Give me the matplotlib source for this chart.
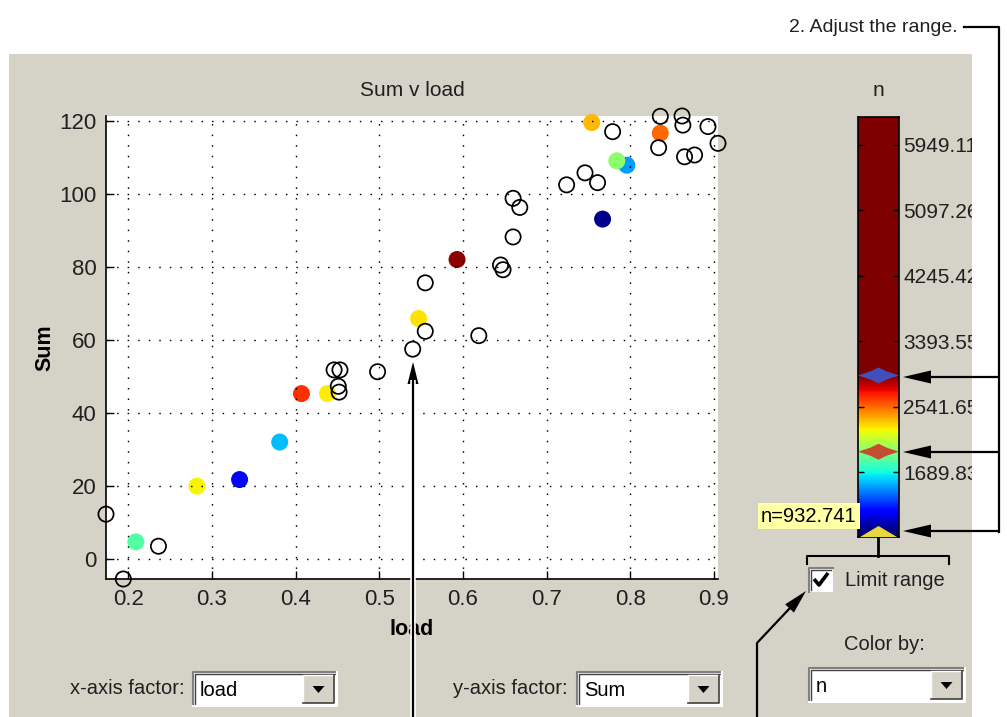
import numpy as np
import matplotlib
matplotlib.use('Agg')
import matplotlib.pyplot as plt
from matplotlib.patches import Rectangle, Polygon
from matplotlib.colors import Normalize

plt.rcParams['font.family'] = ['Liberation Sans', 'DejaVu Sans']

# points whose n lies inside the limited range (filled, coloured by n)
load_in = [0.209, 0.282, 0.333, 0.381, 0.407, 0.438, 0.547, 0.593,
           0.754, 0.796, 0.784, 0.836, 0.767]
sum_in = [4.6, 19.9, 21.7, 32.0, 45.3, 45.3, 65.9, 82.1,
          119.7, 108.0, 109.2, 116.8, 93.2]
n_in = [1840, 2244, 1195, 1558, 2659, 2264, 2284, 2920,
        2371, 1497, 1982, 2546, 959]

# points outside the range (hollow)
load_out = [0.1733, 0.194, 0.236, 0.446, 0.453, 0.451, 0.452, 0.498, 0.540,
            0.555, 0.555, 0.619, 0.645, 0.648, 0.660, 0.660, 0.668, 0.724,
            0.746, 0.761, 0.779, 0.834, 0.836, 0.862, 0.863, 0.865, 0.877,
            0.893, 0.905]
sum_out = [12.2, -5.6, 3.4, 51.8, 51.8, 47.3, 45.7, 51.3, 57.5,
           75.7, 62.4, 61.2, 80.6, 79.3, 88.3, 98.9, 96.4, 102.6,
           105.9, 103.2, 117.2, 112.8, 121.4, 121.5, 119.0, 110.3, 110.8,
           118.6, 114.0]

# colour bar
n_min, n_max = 848.0, 6313.0
n_lo, n_mid, n_hi = 932.741, 1958.0, 2950.0
cbar_ticks = [1689.83, 2541.65, 3393.55, 4245.42, 5097.26, 5949.11]
cbar_labels = ['1689.83', '2541.65', '3393.55', '4245.42', '5097.26', '5949.11']

x_ticks = [0.2, 0.3, 0.4, 0.5, 0.6, 0.7, 0.8, 0.9]
y_ticks = [0, 20, 40, 60, 80, 100, 120]

W, H = 1007, 717
PANEL = '#d5d3c7'
TXT = '#202020'
FS = 15


def box(l, t, r, b):
    return [l / W, 1 - b / H, (r - l) / W, (b - t) / H]


fig = plt.figure(figsize=(W / 100, H / 100), dpi=100)
fig.patch.set_facecolor('white')

# background layer in pixel coordinates
bg = fig.add_axes([0, 0, 1, 1], zorder=-10)
bg.set_xlim(0, W)
bg.set_ylim(H, 0)
bg.axis('off')
bg.add_patch(Rectangle((9, 54), 963, 663, fc=PANEL, ec='none'))


def dropdown(l, t, r, b, label):
    bg.add_patch(Rectangle((l, t), r - l, b - t, fc='white', ec='none'))
    bg.plot([l, l, r], [b, t, t], color='#808080', lw=1.5)
    bg.plot([l + 2, l + 2, r - 2], [b - 2, t + 2, t + 2], color='#404040', lw=1)
    bg.plot([l, r, r], [b, b, t], color='white', lw=1.5)
    bw = 31
    bx = r - bw - 3
    bg.add_patch(Rectangle((bx, t + 3), bw, b - t - 6, fc=PANEL, ec='none'))
    bg.plot([bx, bx, r - 3], [b - 3, t + 3, t + 3], color='white', lw=1)
    bg.plot([bx, r - 3, r - 3], [b - 3, b - 3, t + 3], color='#404040', lw=1.2)
    cx, cy = bx + bw / 2, (t + b) / 2
    bg.add_patch(Polygon([(cx - 6, cy - 3), (cx + 6, cy - 3), (cx, cy + 4)],
                         fc='black', ec='none'))
    bg.text(l + 7, cy + 1, label, va='center', ha='left', fontsize=14.5, color='black')


bg.text(185, 689, 'x-axis factor:', ha='right', va='center', fontsize=14.5, color=TXT)
dropdown(193, 672, 337, 706, 'load')
bg.text(568, 689, 'y-axis factor:', ha='right', va='center', fontsize=14.5, color=TXT)
dropdown(577, 672, 722, 706, 'Sum')
bg.text(884, 645, 'Color by:', ha='center', va='center', fontsize=14.5, color=TXT)
dropdown(809, 668, 965, 702, 'n')

# limit range checkbox
bg.add_patch(Rectangle((809, 568), 24, 24, fc='white', ec='none'))
bg.plot([809, 809, 833], [592, 568, 568], color='#808080', lw=1.5)
bg.plot([811, 811, 831], [590, 570, 570], color='#404040', lw=1)
bg.plot([814, 819, 828], [579, 585, 573], color='black', lw=2.6, solid_capstyle='butt')
bg.text(845, 581, 'Limit range', ha='left', va='center', fontsize=14.5, color=TXT)

# bracket under colour bar
bg.plot([878, 878], [537, 556], color='black', lw=2)
bg.plot([807, 807, 949, 949], [564, 556, 556, 564], color='black', lw=1.5)

# main scatter axes
ax = fig.add_axes(box(106, 116, 718, 579), zorder=1)
ax.set_facecolor('white')
norm = Normalize(n_lo, n_hi)
ax.scatter(load_in, sum_in, c=n_in, cmap='jet', norm=norm, s=150,
           linewidths=0, zorder=2, clip_on=False)
ax.scatter(load_out, sum_out, s=120, facecolors='none', edgecolors='black',
           linewidths=1.25, zorder=2, clip_on=False)
all_x = load_in + load_out
all_y = sum_in + sum_out
ax.set_xlim(min(all_x), max(all_x))
ax.set_ylim(min(all_y), max(all_y))
ax.set_xticks(x_ticks)
ax.set_yticks(y_ticks)
ax.grid(True, color='black', linestyle=(0, (1.1, 6.5)), linewidth=1.0)
ax.set_axisbelow(False)
for s in ['top', 'right']:
    ax.spines[s].set_visible(False)
for s in ['left', 'bottom']:
    ax.spines[s].set_linewidth(1.2)
ax.tick_params(direction='in', length=6, width=1, labelsize=16,
               labelcolor=TXT)
ax.tick_params(axis='x', pad=7)
ax.tick_params(axis='y', pad=7)
ax.set_title('Sum v load', fontsize=FS, color=TXT, y=1.056, va='center', pad=0)
ax.set_xlabel('load', fontsize=15.5, fontweight='bold', va='center')
ax.xaxis.set_label_coords(0.5, -0.110)
ax.set_ylabel('Sum', fontsize=15.5, fontweight='bold', va='center')
ax.yaxis.set_label_coords(-0.099, 0.50)

# colour bar
cax = fig.add_axes(box(858, 117, 899, 537), zorder=1)
vals = np.linspace(n_min, n_max, 600)[:, None]
cax.imshow(vals, cmap='jet', norm=norm, origin='lower', aspect='auto',
           extent=(0, 1, n_min, n_max))
cax.set_xlim(0, 1)
cax.set_ylim(n_min, n_max)
cax.set_xticks([])
cax.set_yticks(cbar_ticks)
cax.set_yticklabels(cbar_labels)
cax.yaxis.tick_right()
cax.tick_params(axis='y', direction='in', length=4, width=1, labelsize=FS,
                labelcolor=TXT, pad=3, left=True, right=True)
for s in cax.spines.values():
    s.set_linewidth(1.2)
cax.set_title('n', fontsize=FS, color=TXT, y=1.064, va='center', pad=0)

# slider handles on the colour bar
dv = (n_max - n_min) / 420.0
for v, fc in [(n_hi, '#3a5ad0'), (n_mid, '#cc3a2a')]:
    cax.add_patch(Polygon([(0.0, v), (0.3, v + 4 * dv), (0.5, v + 8 * dv),
                           (0.7, v + 4 * dv), (1.0, v), (0.7, v - 4 * dv),
                           (0.5, v - 8 * dv), (0.3, v - 4 * dv)],
                          fc=fc, ec='none', alpha=0.9, zorder=3))
cax.add_patch(Polygon([(0.05, n_min), (0.5, n_min + 11 * dv), (0.95, n_min)],
                      fc='#e8d840', ec='none', zorder=3))

# top overlay: white margin and call-out arrows
ov = fig.add_axes([0, 0, 1, 1], zorder=10)
ov.patch.set_visible(False)
ov.set_xlim(0, W)
ov.set_ylim(H, 0)
ov.axis('off')
ov.add_patch(Rectangle((972, 54), W - 972, H - 54, fc='white', ec='none'))


def arrow(pts, hl=26, hw=6.5, halo=False):
    xs = [p[0] for p in pts]
    ys = [p[1] for p in pts]
    (x0, y0), (x1, y1) = pts[-2], pts[-1]
    d = np.hypot(x1 - x0, y1 - y0)
    ux, uy = (x1 - x0) / d, (y1 - y0) / d
    bx, by = x1 - ux * hl, y1 - uy * hl
    xs[-1], ys[-1] = bx + ux * 4, by + uy * 4
    head = [(x1, y1), (bx - uy * hw, by + ux * hw), (bx + uy * hw, by - ux * hw)]
    if halo:
        ov.plot(xs, ys, color='white', lw=4, solid_capstyle='butt')
        ov.add_patch(Polygon(head, fc='black', ec='white', lw=1.2))
    ov.plot(xs, ys, color='black', lw=1.6, solid_capstyle='butt')
    ov.add_patch(Polygon(head, fc='black', ec='none'))


ov.text(958, 27, '2. Adjust the range.', ha='right', va='center',
        fontsize=14, color=TXT)
ov.plot([964, 999, 999], [27, 27, 532], color='black', lw=1.6)
for yy in [377, 452, 531]:
    arrow([(999, yy), (903, yy)], hl=28, hw=6.5)

arrow([(413, 717), (413, 362)], hl=22, hw=5.5, halo=True)
arrow([(757, 717), (757, 643), (806, 591)], hl=24, hw=6)

ov.text(761, 516, 'n=932.741', ha='left', va='center', fontsize=14.5, color='black',
        bbox=dict(boxstyle='square,pad=0.15', fc='#ffffa6', ec='none'))

fig.savefig('out.png', dpi=100)
